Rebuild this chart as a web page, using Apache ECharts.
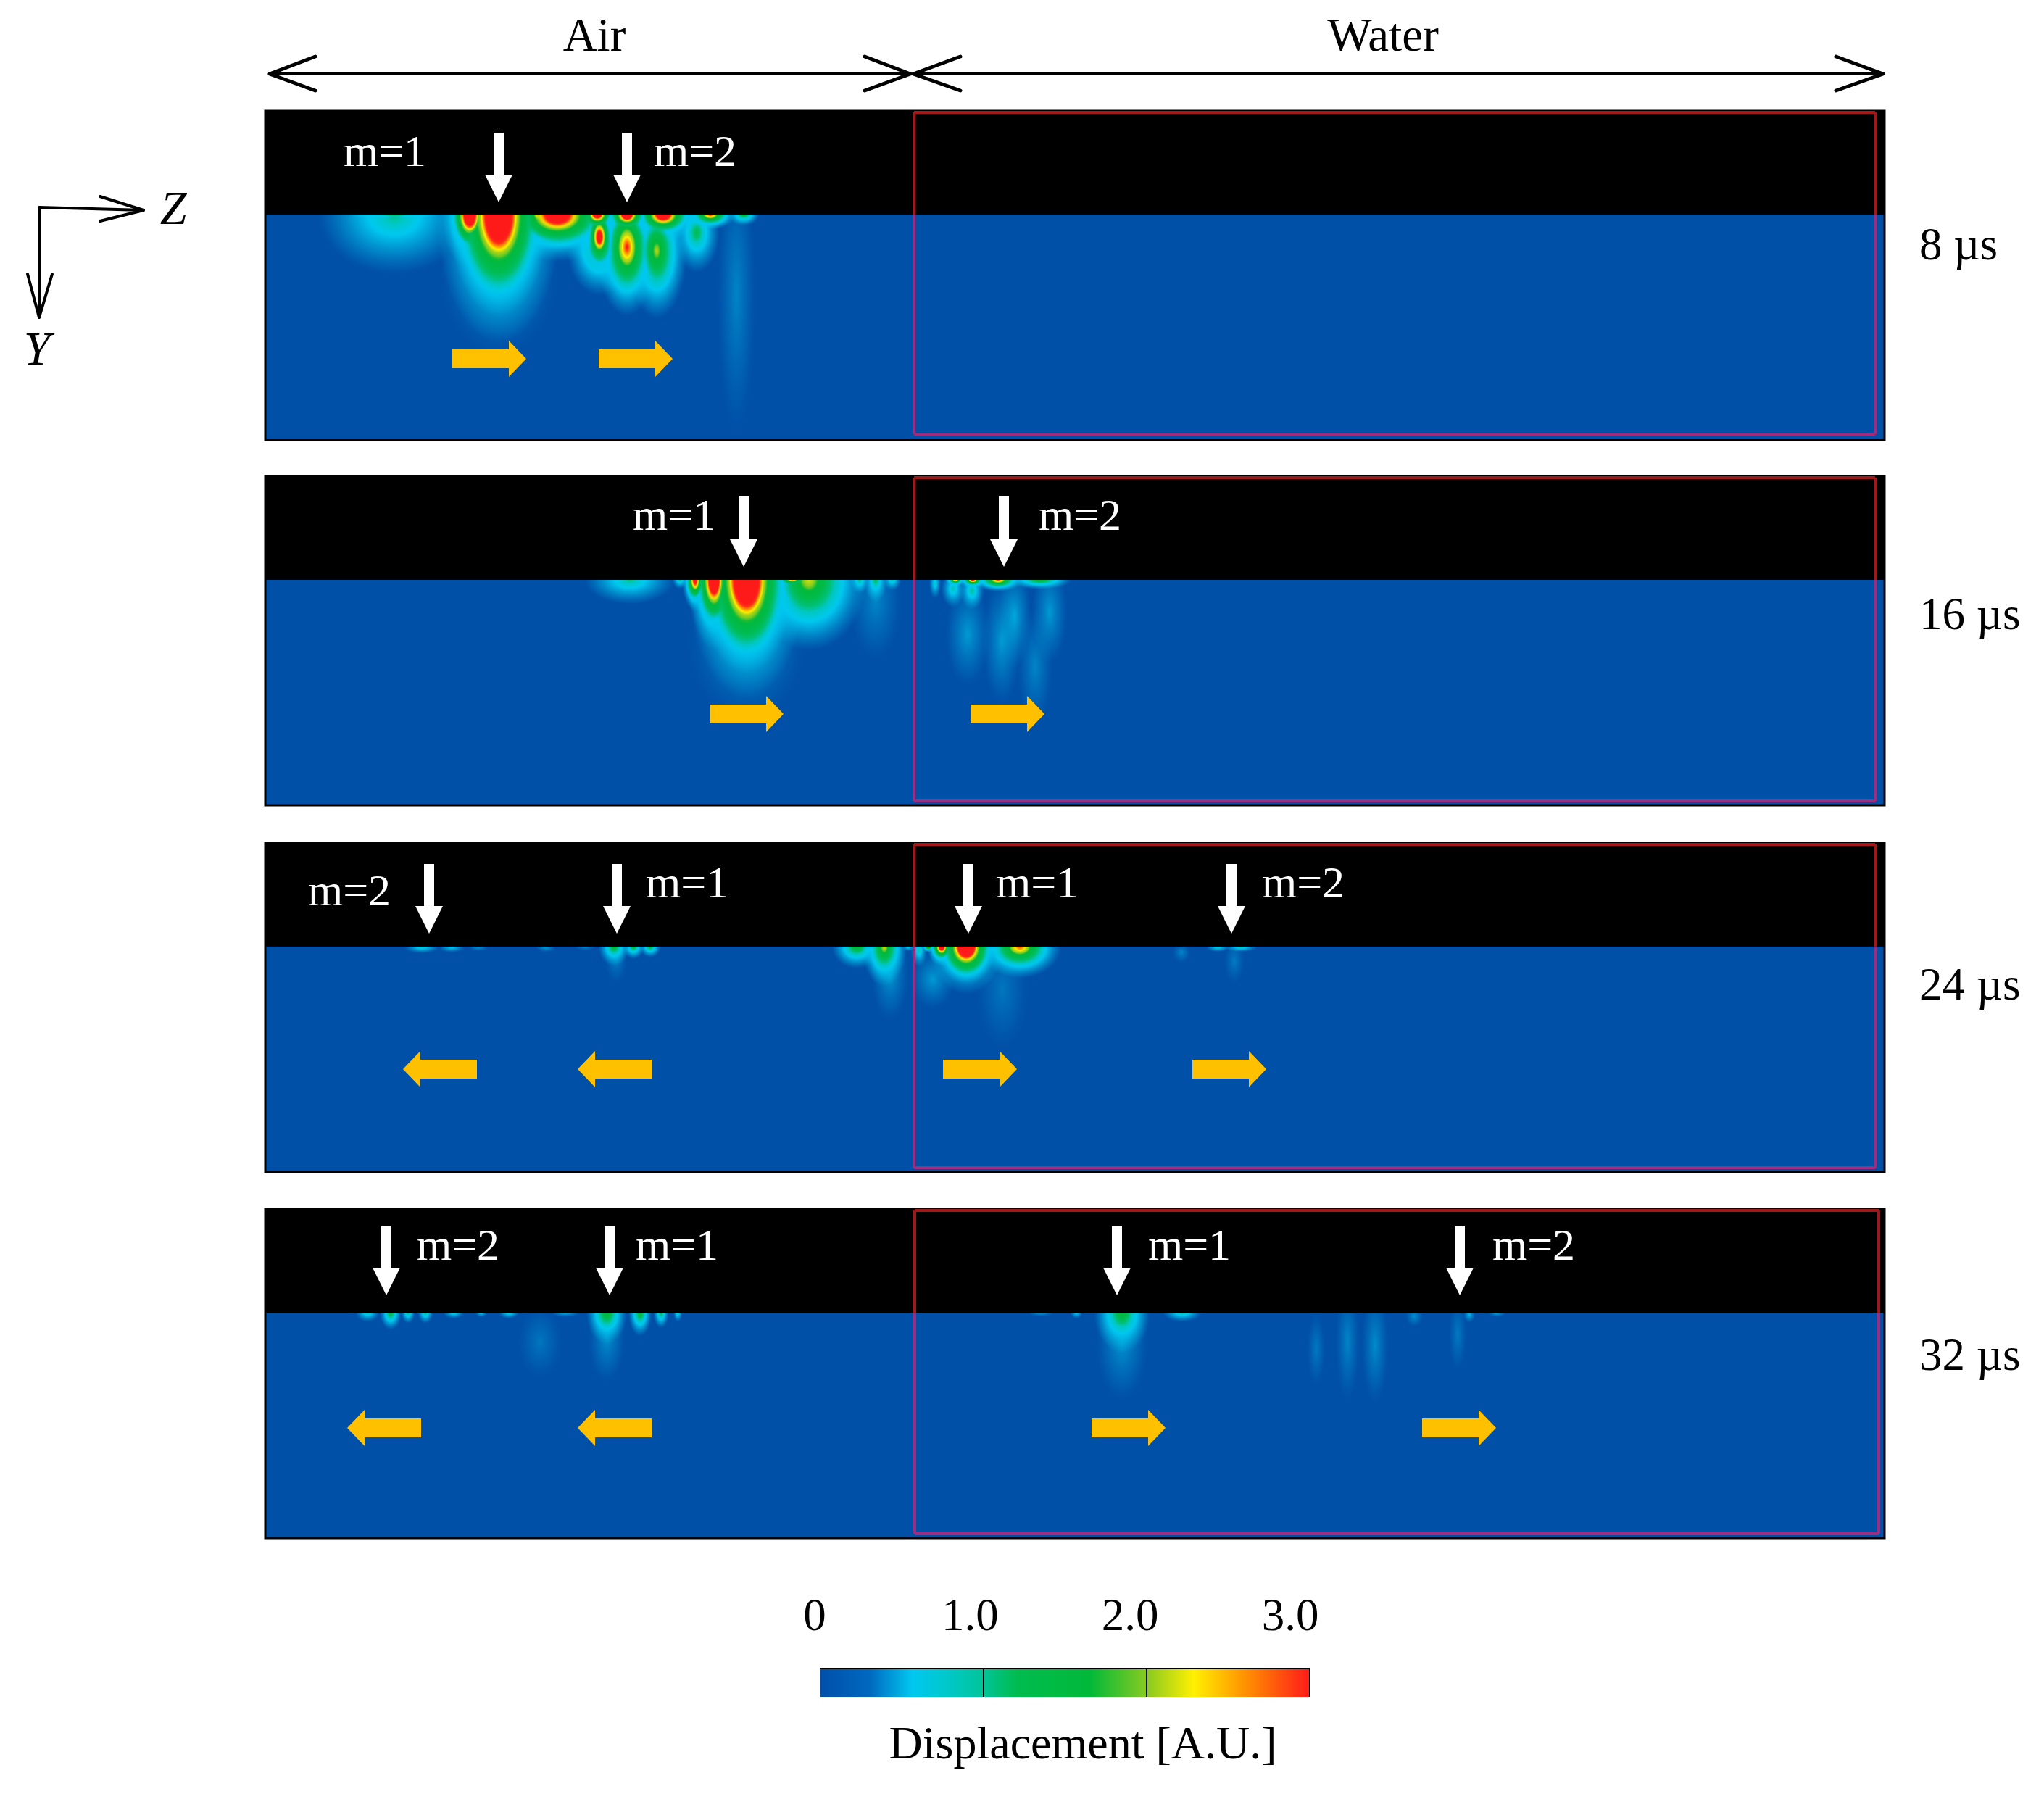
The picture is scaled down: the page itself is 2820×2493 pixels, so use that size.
<!DOCTYPE html>
<html lang="en">
<head>
<meta charset="UTF-8">
<title>Displacement field</title>
<script src="https://cdn.jsdelivr.net/npm/echarts@6/dist/echarts.min.js"></script>
<style>html,body{margin:0;padding:0;background:#fff}</style>
</head>
<body>
<div id="main" style="width:2820px;height:2493px"></div>
<script>
// lobes of the field: [z, depth, half width, half depth, peak value]
var lobes8 = [
  [544,0,100,78,1.02],[544,0,60,6,1.3],[688,85,80,105,.3],[1016,110,26,190,.25],[648,0,30,58,5.6],[688,0,66,135,6],
  [769,0,72,52,5],[745,0,30,26,3],[824,0,25,22,4.6],[865,0,28,25,5.2],[915,0,40,30,5],[980,0,30,18,3.1],[1026,0,20,14,1.5],
  [827,45,42,62,1.6],[827,31,20,45,4.2],[865,45,38,82,3.1],[906,50,38,85,2.05],[961,25,30,52,1.25]
];
var lobes16 = [
  [869,0,60,32,1],[1030,85,80,105,.3],[1208,30,35,80,.25],[938,0,10,12,1],[959,0,15,36,4],[985,0,28,76,5.2],[1030,0,62,125,6],
  [1116,0,72,88,2.2],[1093,0,25,10,2.7],[1186,0,12,18,1.1],[1208,0,15,30,1.2],[1231,0,12,14,.9],
  [1290,5,8,20,.8],[1315,12,16,25,.9],[1318,0,12,8,2.8],[1341,15,16,25,1],[1342,0,16,10,3.5],[1377,0,30,14,3],[1435,0,40,12,1.7],
  [1400,50,22,70,.4],[1448,45,24,70,.35],[1335,75,30,70,.35],[1382,85,26,85,.35],[1428,120,24,80,.25]
];
var lobes24 = [
  [582,0,24,9,.85],[623,0,18,8,.7],[660,0,14,6,.4],[753,0,14,8,.4],[807,0,14,5,.3],[850,20,15,30,.2],
  [847,0,20,25,1.5],[874,0,14,16,1.4],[897,0,14,14,1.35],
  [1182,0,32,28,1.6],[1220,0,28,50,2.2],[1228,40,25,60,.32],[1253,0,8,6,.8],[1268,5,11,22,.9],[1281,0,8,7,2.4],
  [1299,0,16,22,4.6],[1333,0,40,50,6],[1407,0,50,38,2.9],[1287,45,30,40,.35],[1383,60,35,80,.18],
  [1680,0,16,7,.85],[1712,0,22,7,.95],[1630,8,12,14,.25],[1703,20,14,30,.2]
];
var lobes32 = [
  [507,0,16,12,.9],[539,0,14,22,1.5],[563,0,9,14,1.1],[587,0,10,14,1.1],[626,0,14,8,.8],[664,0,8,6,.7],[702,0,14,8,.8],
  [780,0,20,6,.5],[837,0,26,40,1.7],[837,35,25,60,.3],[883,0,15,30,1.6],[912,0,10,20,1.3],[935,0,6,12,.9],[745,40,30,50,.18],
  [1485,0,8,8,.7],[1548,0,36,52,1.6],[1548,40,35,80,.32],[1631,0,26,12,.95],[1436,0,18,5,.4],
  [1859,40,16,80,.25],[1897,45,18,80,.28],[1816,50,12,50,.2],[1951,5,12,14,.3],[2027,3,8,10,.5],[2065,0,12,6,.45],[2011,30,12,50,.2]
];

var panelTimes = ['8 µs', '16 µs', '24 µs', '32 µs'];
var timeLabelY = [341, 851, 1362, 1873];
var panelTops = [153, 657, 1163, 1668];

// wave packets: where the white arrow points, its label, and the flow arrows
var modes8 = ['m=1', 'm=2'], arrowZ8 = [688, 865], labelZ8 = [531, 959], labelDepth8 = [-83, -83];
var modes16 = ['m=1', 'm=2'], arrowZ16 = [1026, 1385], labelZ16 = [930, 1490], labelDepth16 = [-85, -85];
var modes24 = ['m=2', 'm=1', 'm=1', 'm=2'], arrowZ24 = [592, 851, 1336, 1699], labelZ24 = [482, 948, 1431, 1798], labelDepth24 = [-73, -84, -84, -84];
var modes32 = ['m=2', 'm=1', 'm=1', 'm=2'], arrowZ32 = [533, 841, 1541, 2014], labelZ32 = [632, 934, 1641, 2116], labelDepth32 = [-89, -89, -89, -89];
var arrowDepths = [[-113, -17], [-116, -18], [-114, -18], [-119, -24]];

// flow arrows: [centre z, direction]
var flow8 = [[675, 1], [877, 1]], flow16 = [[1030, 1], [1390, 1]];
var flow24 = [[607, -1], [848, -1], [1352, 1], [1696, 1]], flow32 = [[530, -1], [848, -1], [1557, 1], [2013, 1]];
var flowDepths = [199, 185, 169, 159];

var waterBox = [[1261, 2587], [1261, 2587], [1261, 2587], [1262, 2592]];
var boxTop = -141;
var boxBottoms = [303, 305, 305, 305];

var tickLabels = ['0', '1.0', '2.0', '3.0'];
var tickLabelAt = [0, .98, 1.99, 3];
var colorScale = [0, 3];
var rampOffsets = [0, .1, .188, .25, .33, .40, .55, .67, .763, .87, 1];
var rampColors = ['#0050a8', '#0068c0', '#00c8f0', '#00c8d0', '#00c59b', '#00bc50', '#00b93a', '#8ccb20', '#fff000', '#ff9000', '#ff1a1a'];

// fall-off of a strong lobe from centre to rim, as a share of its peak
var falloffAt = [0, .22, .3, .42, .62, .8, 1];
var falloff = [1, .5, .33, .22, .09, .03, 0];
// paint levels [from, to]: every lobe is painted once per level so overlaps keep the larger value
var levels = [[0, .56], [.85, 1.15], [1.7, 2.1]];

var FONT = '"Liberation Serif", serif';

function rgb(hex) {
  return [1, 3, 5].map(function (i) { return parseInt(hex.substr(i, 2), 16); });
}
// value -> colour through the colour bar
function ramp(v, alpha) {
  var t = Math.min(1, Math.max(0, v / colorScale[1]));
  var i = 0;
  while (i < rampOffsets.length - 2 && t > rampOffsets[i + 1]) i++;
  var f = (t - rampOffsets[i]) / (rampOffsets[i + 1] - rampOffsets[i]);
  var a = rgb(rampColors[i]), b = rgb(rampColors[i + 1]);
  return 'rgba(' + [0, 1, 2].map(function (k) { return Math.round(a[k] + (b[k] - a[k]) * f); }).join(',') + ',' + alpha + ')';
}
function strongShare(t) {
  var i = 0;
  while (i < falloffAt.length - 2 && t > falloffAt[i + 1]) i++;
  return falloff[i] + (falloff[i + 1] - falloff[i]) * (t - falloffAt[i]) / (falloffAt[i + 1] - falloffAt[i]);
}
// weak lobes fall off evenly, strong ones keep a flat red core
function lobeFill(peak, level) {
  var stops = [], strong = Math.min(1, peak / 6);
  for (var i = 0; i <= 40; i++) {
    var t = i / 40;
    var v = peak * (strong * strongShare(t) + (1 - strong) * Math.pow(1 - t, 1.2));
    var alpha = Math.min(1, Math.max(0, (v - level[0]) / (level[1] - level[0])));
    stops.push({ offset: t, color: ramp(Math.max(v, level[1]), alpha.toFixed(3)) });
  }
  return { type: 'radial', x: .5, y: .5, r: .5, colorStops: stops };
}
function lobeRenderer(level) {
  return function (params, api) {
    var peak = api.value(4);
    var grow = 1 + .3 * Math.min(1, peak / 6);
    var p = api.coord([api.value(0), api.value(1)]);
    var s = api.size([api.value(2) * grow, api.value(3) * grow], [api.value(0), api.value(1)]);
    return {
      type: 'circle', shape: { cx: 0, cy: 0, r: 1 },
      x: p[0], y: p[1], scaleX: s[0], scaleY: s[1],
      style: { fill: lobeFill(peak, level) }
    };
  };
}

var lobeSets = [lobes8, lobes16, lobes24, lobes32];
var modeSets = [modes8, modes16, modes24, modes32];
var arrowSets = [arrowZ8, arrowZ16, arrowZ24, arrowZ32];
var labelSets = [labelZ8, labelZ16, labelZ24, labelZ32];
var labelDepthSets = [labelDepth8, labelDepth16, labelDepth24, labelDepth32];
var flowSets = [flow8, flow16, flow24, flow32];

var grids = [], xAxes = [], yAxes = [], series = [];

panelTops.forEach(function (top, n) {
  grids.push({ left: 366, top: top, width: 2234, height: 454, show: true, backgroundColor: '#0050a8', borderColor: '#000', borderWidth: 3 });
  xAxes.push({ gridIndex: n, type: 'value', min: 366, max: 2600, show: false });
  yAxes.push({ gridIndex: n, type: 'value', min: -143, max: 311, inverse: true, show: false });

  // field, low levels first
  levels.forEach(function (level) {
    series.push({
      type: 'custom', xAxisIndex: n, yAxisIndex: n, z: 2, clip: true, silent: true,
      renderItem: lobeRenderer(level),
      data: lobeSets[n].slice().sort(function (a, b) { return a[4] - b[4]; })
    });
  });
  // black strip above the surface
  series.push({
    type: 'custom', xAxisIndex: n, yAxisIndex: n, z: 3, silent: true,
    renderItem: function (params, api) {
      var a = api.coord([api.value(0), -143]), b = api.coord([api.value(1), 0]);
      return { type: 'rect', shape: { x: a[0], y: a[1], width: b[0] - a[0], height: b[1] - a[1] }, style: { fill: '#000' } };
    },
    data: [[366, 2600]]
  });
  // red box of the water section
  series.push({
    type: 'custom', xAxisIndex: n, yAxisIndex: n, z: 4, silent: true,
    renderItem: function (params, api) {
      var l = api.coord([api.value(0), boxTop]), r = api.coord([api.value(1), boxBottoms[n]]), s = api.coord([0, 0])[1];
      function seg(x1, y1, x2, y2, c) {
        return { type: 'line', shape: { x1: x1, y1: y1, x2: x2, y2: y2 }, style: { stroke: c, lineWidth: 4 } };
      }
      return { type: 'group', children: [
        seg(l[0], l[1], r[0], l[1], '#a01818'), seg(l[0], l[1], l[0], s, '#a01818'), seg(r[0], l[1], r[0], s, '#a01818'),
        seg(l[0], s, l[0], r[1], '#a02c80'), seg(r[0], s, r[0], r[1], '#a02c80'), seg(l[0], r[1], r[0], r[1], '#a02c80')
      ] };
    },
    data: [waterBox[n]]
  });
  // white arrows and mode labels
  series.push({
    type: 'custom', xAxisIndex: n, yAxisIndex: n, z: 5, silent: true,
    renderItem: function (params, api) {
      var z = api.value(0);
      var a = api.coord([z, arrowDepths[n][0]]), b = api.coord([z, arrowDepths[n][1]]);
      var t = api.coord([labelSets[n][params.dataIndex], labelDepthSets[n][params.dataIndex]]);
      var x = a[0], hb = b[1] - 38;
      return { type: 'group', children: [
        { type: 'polygon', shape: { points: [[x - 7, a[1]], [x + 7, a[1]], [x + 7, hb], [x + 19, hb], [x, b[1]], [x - 19, hb], [x - 7, hb]] }, style: { fill: '#fff' } },
        { type: 'text', x: t[0], y: t[1], style: { text: modeSets[n][params.dataIndex], fill: '#fff', font: '62px ' + FONT, textAlign: 'center', textVerticalAlign: 'middle' } }
      ] };
    },
    data: arrowSets[n].map(function (z) { return [z, 0]; })
  });
  // yellow flow arrows
  series.push({
    type: 'custom', xAxisIndex: n, yAxisIndex: n, z: 5, silent: true,
    renderItem: function (params, api) {
      var c = api.coord([api.value(0), flowDepths[n]]), d = api.value(1);
      var x = c[0], y = c[1];
      return { type: 'polygon', shape: { points: [
        [x - 51 * d, y - 13], [x + 27 * d, y - 13], [x + 27 * d, y - 25], [x + 51 * d, y],
        [x + 27 * d, y + 25], [x + 27 * d, y + 13], [x - 51 * d, y + 13]
      ] }, style: { fill: '#ffc000' } };
    },
    data: flowSets[n]
  });
});

// colour bar
grids.push({ left: 1132, top: 2302, width: 675, height: 39, show: false });
xAxes.push({
  gridIndex: 4, type: 'value', min: colorScale[0], max: colorScale[1], position: 'top', z: 10,
  axisLine: { show: true, onZero: false, lineStyle: { color: '#000', width: 2 } },
  axisTick: { show: true, inside: true, length: 39, customValues: [1, 2, 3], lineStyle: { color: '#000', width: 2 } },
  axisLabel: { show: false }, splitLine: { show: false }
});
yAxes.push({ gridIndex: 4, type: 'value', min: 0, max: 1, show: false });
series.push({
  type: 'custom', xAxisIndex: 4, yAxisIndex: 4, z: 2, silent: true,
  renderItem: function (params, api) {
    var a = api.coord([api.value(0), 1]), b = api.coord([api.value(1), 0]);
    return {
      type: 'rect', shape: { x: a[0], y: a[1], width: b[0] - a[0], height: b[1] - a[1] },
      style: { fill: { type: 'linear', x: 0, y: 0, x2: 1, y2: 0, colorStops: rampOffsets.map(function (o, i) { return { offset: o, color: rampColors[i] }; }) } }
    };
  },
  data: [colorScale]
});

// tick labels of the colour bar sit a little left of the ticks
grids.push({ left: 1124, top: 2190, width: 656, height: 1, show: false });
xAxes.push({
  gridIndex: 5, type: 'value', min: 0, max: 3, position: 'bottom',
  axisLine: { show: false, onZero: false }, axisTick: { show: false }, splitLine: { show: false },
  axisLabel: {
    show: true, margin: 10, color: '#000', fontFamily: FONT, fontSize: 63, customValues: tickLabelAt,
    formatter: function (v, i) { return tickLabels[tickLabelAt.indexOf(v)]; }
  }
});
yAxes.push({ gridIndex: 5, type: 'value', min: 0, max: 1, show: false });
series.push({ type: 'custom', xAxisIndex: 5, yAxisIndex: 5, renderItem: function () { return null; }, data: [] });

function label(text, x, y, size, extra) {
  return {
    type: 'text', x: x, y: y, z: 20,
    style: { text: text, fill: '#000', font: (extra || '') + ' ' + size + 'px ' + FONT, textAlign: 'center', textVerticalAlign: 'middle' }
  };
}
function line(points, w) {
  return { type: 'polyline', z: 20, shape: { points: points }, style: { stroke: '#000', lineWidth: w, fill: null, lineCap: 'round', lineJoin: 'round' } };
}

var graphics = [
  label('Air', 820, 53, 65),
  label('Water', 1908, 53, 65),
  label('Displacement [A.U.]', 1494, 2409, 64),
  label('Z', 239, 292, 66, 'italic'),
  label('Y', 51, 486, 66, 'italic'),
  // span arrows above the panels
  line([[372, 102], [1256, 102]], 4),
  line([[435, 78], [372, 102], [435, 125]], 5),
  line([[1193, 78], [1256, 102], [1193, 125]], 5),
  line([[1260, 102], [2598, 102]], 4),
  line([[1325, 78], [1260, 102], [1325, 125]], 5),
  line([[2533, 78], [2598, 102], [2533, 125]], 5),
  // Z / Y triad
  line([[198, 290], [54, 286], [54, 438]], 4),
  line([[138, 271], [198, 290], [138, 305]], 4),
  line([[38, 378], [54, 438], [72, 378]], 4)
];
panelTimes.forEach(function (t, i) {
  graphics.push({
    type: 'text', x: 2648, y: timeLabelY[i], z: 20,
    style: { text: t, fill: '#000', font: '63px ' + FONT, textAlign: 'left', textVerticalAlign: 'middle' }
  });
});

var myChart = echarts.init(document.getElementById('main'));
myChart.setOption({
  animation: false,
  backgroundColor: '#fff',
  grid: grids,
  xAxis: xAxes,
  yAxis: yAxes,
  series: series,
  graphic: graphics
});
</script>
</body>
</html>
